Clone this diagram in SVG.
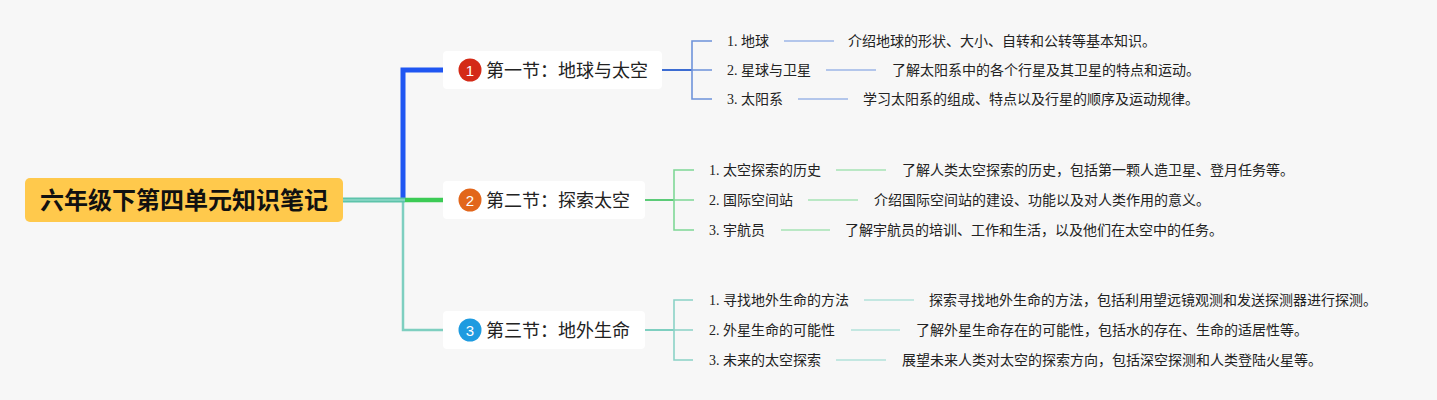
<svg xmlns="http://www.w3.org/2000/svg" width="1437" height="400" viewBox="0 0 1437 400">
<style>
.root{font-family:"Noto Sans CJK SC","Noto Sans",sans-serif;font-size:24px;font-weight:bold;fill:#111}
.br{font-family:"Noto Sans CJK SC","Noto Sans",sans-serif;font-size:18px;fill:#222}
.num{font-family:"Liberation Sans","Noto Sans",sans-serif;font-size:15px;fill:#fff}
.lab{font-family:"Liberation Serif","Noto Sans CJK SC",serif;font-size:14px;fill:#222}
.desc{font-family:"Noto Sans CJK SC","Noto Sans",sans-serif;font-size:14px;fill:#222}
.box{fill:#fff}
.c1{stroke:#6E93DA;stroke-width:1.6;fill:none}
.l1{stroke:#9DB6E7;stroke-width:1.6}
.c2{stroke:#7FD796;stroke-width:1.6;fill:none}
.l2{stroke:#A6E3B5;stroke-width:1.6}
.c3{stroke:#8AD2C6;stroke-width:1.6;fill:none}
.l3{stroke:#B2E2DA;stroke-width:1.6}
</style>
<rect width="1437" height="400" fill="#F7F7F7"/>
<g id="connectors">
  <path d="M403,200 V70 H443" stroke="#1F56F2" stroke-width="5" fill="none"/>
  <path d="M403,200 V330 H443" stroke="#7ECFC0" stroke-width="2.5" fill="none"/>
  <path d="M405,200 H443" stroke="#3CCB55" stroke-width="4.5" fill="none"/>
  <path d="M342,200 H405" stroke="#5DC3AA" stroke-width="5" fill="none"/>
  <path d="M342,200 H405" stroke="#8FD9C8" stroke-width="1.5" fill="none"/>
  <path d="M662,70 H692" stroke="#3C6CD2" stroke-width="2" fill="none"/>
  <path class="c1" d="M712,41 H692 V99 H712 M692,70 H712"/>
  <line class="l1" x1="784" y1="41" x2="834" y2="41"/>
  <line class="l1" x1="826" y1="70" x2="876" y2="70"/>
  <line class="l1" x1="798" y1="99" x2="848" y2="99"/>
  <path d="M645,200 H674" stroke="#5CCB78" stroke-width="2" fill="none"/>
  <path class="c2" d="M694,170 H674 V230 H694 M674,200 H694"/>
  <line class="l2" x1="836" y1="170" x2="886" y2="170"/>
  <line class="l2" x1="808" y1="200" x2="858" y2="200"/>
  <line class="l2" x1="781" y1="230" x2="830" y2="230"/>
  <path d="M645,330 H674" stroke="#7ECFC0" stroke-width="2" fill="none"/>
  <path class="c3" d="M693,300 H674 V360 H693 M674,330 H693"/>
  <line class="l3" x1="864" y1="300" x2="914" y2="300"/>
  <line class="l3" x1="851" y1="330" x2="900" y2="330"/>
  <line class="l3" x1="836" y1="360" x2="886" y2="360"/>
</g>
<g id="root">
  <rect x="25" y="178" width="318" height="44" rx="5" fill="#FFC94C"/>
  <text class="root" x="184" y="208.5" text-anchor="middle">六年级下第四单元知识笔记</text>
</g>
<g id="sec1">
  <rect class="box" x="443" y="51" width="219" height="38" rx="4"/>
  <circle cx="470" cy="70" r="11.5" fill="#D42A17"/>
  <text class="num" x="470" y="75.5" text-anchor="middle">1</text>
  <text class="br" x="486" y="76.5">第一节：地球与太空</text>
</g>
<g id="sec2">
  <rect class="box" x="443" y="181" width="202" height="38" rx="4"/>
  <circle cx="470" cy="200" r="11.5" fill="#E2661B"/>
  <text class="num" x="470" y="205.5" text-anchor="middle">2</text>
  <text class="br" x="486" y="206.5">第二节：探索太空</text>
</g>
<g id="sec3">
  <rect class="box" x="443" y="311" width="202" height="38" rx="4"/>
  <circle cx="470" cy="330" r="11.5" fill="#1E9BE0"/>
  <text class="num" x="470" y="335.5" text-anchor="middle">3</text>
  <text class="br" x="486" y="336.5">第三节：地外生命</text>
</g>
<g id="s1-items">
  <text class="lab" x="727" y="46">1. 地球</text>
  <text class="desc" x="848" y="46">介绍地球的形状、大小、自转和公转等基本知识。</text>
  <text class="lab" x="727" y="75">2. 星球与卫星</text>
  <text class="desc" x="892" y="75">了解太阳系中的各个行星及其卫星的特点和运动。</text>
  <text class="lab" x="727" y="104">3. 太阳系</text>
  <text class="desc" x="863" y="104">学习太阳系的组成、特点以及行星的顺序及运动规律。</text>
</g>
<g id="s2-items">
  <text class="lab" x="709" y="175">1. 太空探索的历史</text>
  <text class="desc" x="902" y="175">了解人类太空探索的历史，包括第一颗人造卫星、登月任务等。</text>
  <text class="lab" x="709" y="205">2. 国际空间站</text>
  <text class="desc" x="874" y="205">介绍国际空间站的建设、功能以及对人类作用的意义。</text>
  <text class="lab" x="709" y="235">3. 宇航员</text>
  <text class="desc" x="845" y="235">了解宇航员的培训、工作和生活，以及他们在太空中的任务。</text>
</g>
<g id="s3-items">
  <text class="lab" x="709" y="305">1. 寻找地外生命的方法</text>
  <text class="desc" x="929" y="305">探索寻找地外生命的方法，包括利用望远镜观测和发送探测器进行探测。</text>
  <text class="lab" x="709" y="335">2. 外星生命的可能性</text>
  <text class="desc" x="916" y="335">了解外星生命存在的可能性，包括水的存在、生命的适居性等。</text>
  <text class="lab" x="709" y="365">3. 未来的太空探索</text>
  <text class="desc" x="902" y="365">展望未来人类对太空的探索方向，包括深空探测和人类登陆火星等。</text>
</g>
</svg>
